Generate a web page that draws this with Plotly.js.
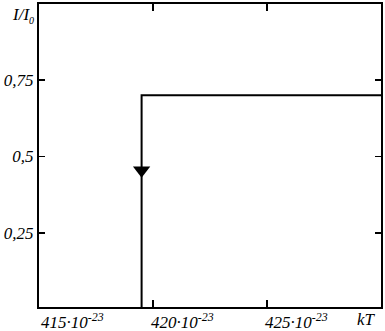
<!DOCTYPE html>
<html><head><meta charset="utf-8">
<script src="https://cdn.plot.ly/plotly-3.0.1.min.js"></script>
<style>body{margin:0;background:#fff}#c{width:385px;height:331px}</style>
</head><body><div id="c"></div>
<script>
// Data
const stepX = [419.5, 419.5, 430];
const stepY = [0, 0.70, 0.70];
const markerX = [419.5];
const markerY = [0.455];
const xTickVals = [415, 420, 425];
const xTickText = ['415·10<sup>-23</sup>', '420·10<sup>-23</sup>', '425·10<sup>-23</sup>'];
const yTickVals = [0.25, 0.5, 0.75];
const yTickText = ['0,25', '0,5', '0,75'];
const xLabel = 'kT';
const yLabel = 'I/I<sub><span style="font-size:10px">0</span></sub>';

const font = {family: '"Liberation Serif"', size: 17, color: '#000', style: 'italic'};

const traces = [
  {x: stepX, y: stepY, mode: 'lines', line: {color: '#000', width: 2}, hoverinfo: 'skip', cliponaxis: true},
  {x: markerX, y: markerY, mode: 'markers', marker: {symbol: 'triangle-down', size: 15, color: '#000'}, cliponaxis: false}
];

const annotations = xTickVals.map((v, i) => ({
  x: v, xref: 'x', y: 0, yref: 'paper', yanchor: 'top', xanchor: 'left',
  xshift: i === 0 ? 0 : -4, yshift: -1,
  text: xTickText[i], showarrow: false, font: font
}));
annotations.push({x: 430, xref: 'x', y: 0, yref: 'paper', yanchor: 'top', xanchor: 'right', xshift: -3, yshift: -1,
  text: xLabel, showarrow: false, font: font});
annotations.push({x: 0, xref: 'paper', y: 1, yref: 'paper', xanchor: 'right', yanchor: 'top', xshift: -3, yshift: 1,
  text: yLabel, showarrow: false, font: font});

const layout = {
  width: 385, height: 331,
  margin: {l: 39, r: 4, t: 4, b: 24},
  paper_bgcolor: '#fff', plot_bgcolor: '#fff',
  showlegend: false,
  font: font,
  xaxis: {range: [415, 430], tickvals: [415, 420, 425, 430], showticklabels: false,
    ticks: 'inside', ticklen: 7, tickwidth: 1.5, tickcolor: '#000',
    showline: true, linecolor: '#000', linewidth: 2, mirror: 'ticks',
    showgrid: false, zeroline: false, fixedrange: true},
  yaxis: {range: [0.008, 0.998], tickvals: yTickVals, ticktext: yTickText,
    ticks: 'inside', ticklen: 6, tickwidth: 1.5, tickcolor: '#000',
    showline: true, linecolor: '#000', linewidth: 2, mirror: 'ticks',
    showgrid: false, zeroline: false, tickfont: font, ticklabelstandoff: 0, fixedrange: true},
  annotations: annotations
};

Plotly.newPlot('c', traces, layout, {staticPlot: true, displayModeBar: false});
</script></body></html>
